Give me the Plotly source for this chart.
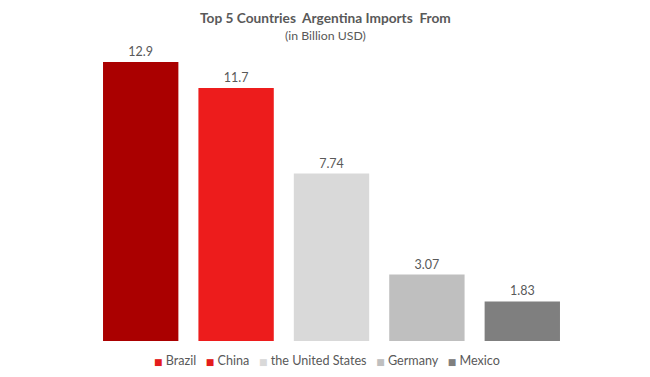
import plotly.graph_objects as go

countries = ["Brazil", "China", "the United States", "Germany", "Mexico"]
values = [12.9, 11.7, 7.74, 3.07, 1.83]
value_labels = ["12.9", "11.7", "7.74", "3.07", "1.83"]
bar_colors = ["#AA0000", "#ED1C1C", "#D9D9D9", "#BFBFBF", "#7F7F7F"]
legend_colors = ["#E41C1C", "#E41C1C", "#D9D9D9", "#BFBFBF", "#7F7F7F"]

FONT = "Lato, 'Open Sans', sans-serif"
TXT = "#595959"

ML, MR, MT, MB = 93, 80, 49, 36
W, H = 650, 377
ph = H - MT - MB
pw = W - ML - MR

fig = go.Figure()
fig.add_trace(go.Bar(
    x=countries, y=values, marker=dict(color=bar_colors, line=dict(width=0)),
    text=value_labels, textposition="outside", cliponaxis=False,
    textfont=dict(family=FONT, size=12.5, color=TXT),
    width=0.79, showlegend=False, hoverinfo="x+y",
))

legend_text = "&nbsp;&nbsp;&nbsp;".join(
    f"<span style='color:{c};font-family:DejaVu Sans;font-size:9px'>■</span> {n}"
    for n, c in zip(countries, legend_colors)
)

cx = (325 - ML) / pw
fig.update_layout(
    width=W, height=H,
    margin=dict(l=ML, r=MR, t=MT, b=MB, autoexpand=False),
    paper_bgcolor="white", plot_bgcolor="white",
    font=dict(family=FONT, color=TXT, size=12),
    showlegend=False,
    xaxis=dict(showticklabels=False, showgrid=False, zeroline=False, showline=False, ticks=""),
    yaxis=dict(range=[0, 13.5], visible=False),
    annotations=[
        dict(text="<b>Top 5 Countries  Argentina Imports  From</b>", x=cx, xref="paper",
             y=1 + (MT - 18) / ph, yref="paper", yanchor="middle", showarrow=False,
             font=dict(size=13.7, color=TXT, family=FONT)),
        dict(text="(in Billion USD)", x=cx, xref="paper", y=1 + (MT - 35) / ph, yref="paper",
             yanchor="middle", showarrow=False, font=dict(size=12.3, color=TXT, family=FONT)),
        dict(text=legend_text, x=(327 - ML) / pw, xref="paper", y=-(360 - (H - MB)) / ph,
             yref="paper", yanchor="middle", showarrow=False,
             font=dict(size=12.6, color=TXT, family=FONT)),
    ],
)

fig.write_html("out.html", config={"displayModeBar": False},
               post_script="document.body.style.margin='0';")
